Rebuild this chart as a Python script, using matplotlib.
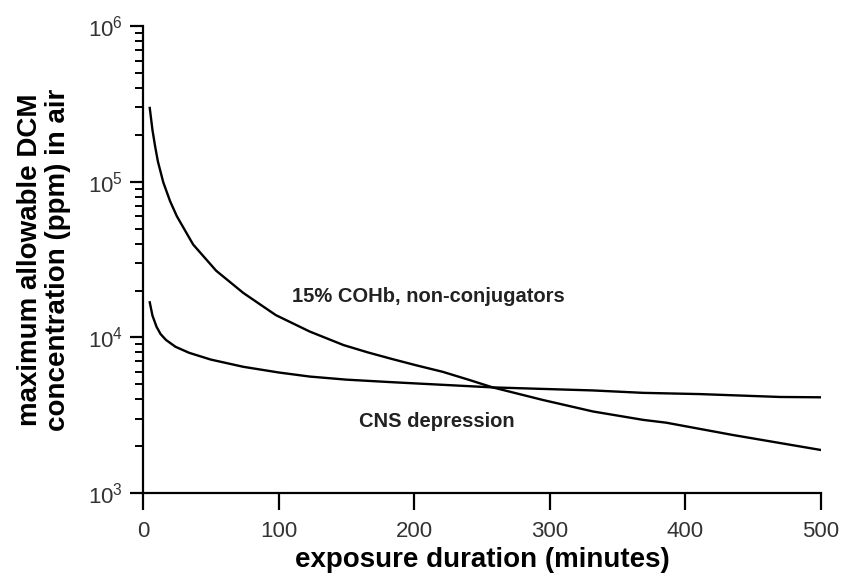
import matplotlib
matplotlib.use("Agg")
import matplotlib.pyplot as plt
import numpy as np
from matplotlib.ticker import LogLocator, FixedLocator, FixedFormatter

plt.rcParams['font.family'] = ['Liberation Sans', 'DejaVu Sans']
plt.rcParams['mathtext.fontset'] = 'custom'
plt.rcParams['mathtext.rm'] = 'Liberation Sans'

# 15% COHb, non-conjugators (minutes, ppm)
cohb_t = [5, 7, 9, 11, 15, 20, 25, 37, 54, 74, 98, 123, 148, 166, 184, 202, 221, 240,
          258, 295, 332, 369, 386, 435, 500]
cohb_ppm = [298000, 215000, 168000, 135000, 99000, 75000, 60000, 39500, 26800, 19300,
            13900, 10900, 8920, 8000, 7250, 6600, 6010, 5350, 4770, 3960, 3340, 2950,
            2830, 2360, 1890]

# CNS depression
cns_t = [5, 7, 10, 13, 17, 24, 34, 50, 74, 100, 123, 150, 184, 258, 332, 369, 411, 470, 500]
cns_ppm = [16800, 13800, 11700, 10500, 9620, 8700, 7960, 7200, 6470, 5950, 5600, 5350,
           5150, 4770, 4560, 4400, 4320, 4140, 4120]

xticks = [0, 100, 200, 300, 400, 500]
yticks = [1e3, 1e4, 1e5, 1e6]
ytick_labels = [r'$\mathdefault{10^{3}}$', r'$\mathdefault{10^{4}}$',
                r'$\mathdefault{10^{5}}$', r'$\mathdefault{10^{6}}$']

fig = plt.figure(figsize=(8.42, 5.80), dpi=100)
ax = fig.add_axes([0.1698, 0.150, 0.805, 0.805])

ax.plot(cohb_t, cohb_ppm, color='black', lw=1.7)
ax.plot(cns_t, cns_ppm, color='black', lw=1.7)

ax.set_yscale('log')
ax.set_xlim(0, 500)
ax.set_ylim(1e3, 1e6)

ax.xaxis.set_major_locator(FixedLocator(xticks))
ax.yaxis.set_major_locator(FixedLocator(yticks))
ax.yaxis.set_major_formatter(FixedFormatter(ytick_labels))
ax.yaxis.set_minor_locator(LogLocator(base=10, subs=np.arange(2, 10)))
ax.yaxis.set_minor_formatter(FixedFormatter([]))

for s in ['top', 'right']:
    ax.spines[s].set_visible(False)
for s in ['left', 'bottom']:
    ax.spines[s].set_linewidth(1.6)

ax.tick_params(axis='x', which='major', direction='out', length=12, width=1.6,
               labelsize=16, labelcolor='#333333', pad=8)
ax.tick_params(axis='y', which='major', direction='out', length=9.5, width=1.6,
               labelsize=16, labelcolor='#333333', pad=5)
ax.tick_params(axis='y', which='minor', direction='out', length=5.5, width=1.4)

ax.set_xlabel('exposure duration (minutes)', fontsize=20, fontweight='bold', labelpad=4)
ax.set_ylabel('maximum allowable DCM\nconcentration (ppm) in air', fontsize=20,
              fontweight='bold', labelpad=12, linespacing=1.1)

ax.text(110, 18200, '15% COHb, non-conjugators', fontsize=14.5, fontweight='bold',
        color='#222222', va='center', ha='left')
ax.text(159, 2870, 'CNS depression', fontsize=14.5, fontweight='bold',
        color='#222222', va='center', ha='left')

fig.savefig('out.png', dpi=100)
